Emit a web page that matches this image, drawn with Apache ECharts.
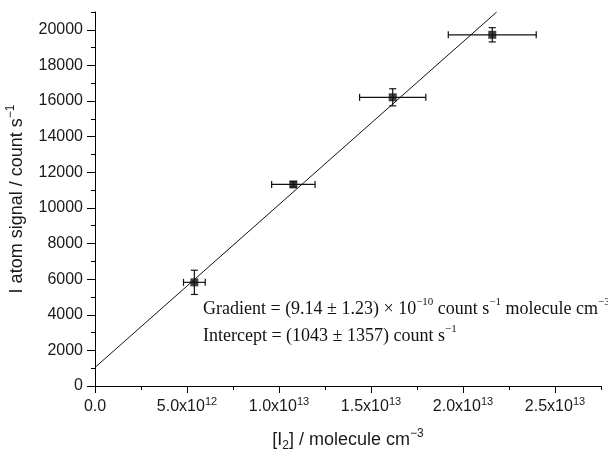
<!DOCTYPE html>
<html>
<head>
<meta charset="utf-8">
<script src="https://cdn.jsdelivr.net/npm/echarts@6/dist/echarts.min.js"></script>
<style>html,body{margin:0;padding:0;background:#fff}#c{width:608px;height:455px}</style>
</head>
<body>
<div id="c"></div>
<script>
// data
const pointX = [5.40e12, 1.078e13, 1.618e13, 2.159e13];
const pointY = [5820, 11320, 16210, 19720];
const xErr = [0.59e12, 1.18e12, 1.80e12, 2.39e12];
const yErr = [680, 150, 480, 400];
const fitX = [0, 2.183e13];
const fitY = [1043, 21000];
const xTicks = [0, 5e12, 1e13, 1.5e13, 2e13, 2.5e13];
const yTicks = [0, 2000, 4000, 6000, 8000, 10000, 12000, 14000, 16000, 18000, 20000];
const xMax = 2.75e13, yMax = 21000;

const SANS = 'Liberation Sans, Arial, sans-serif';
const SERIF = 'Liberation Serif, Times New Roman, serif';
const TXT = '#1a1a1a';

function fmtX(v) {
  if (v === 0) return '{a|0.0}';
  const e = Math.floor(Math.log10(v) + 1e-9);
  const m = (v / Math.pow(10, e)).toFixed(1);
  return '{a|' + m + 'x10}{s|' + e + '}';
}

const chart = echarts.init(document.getElementById('c'), null, {renderer: 'canvas'});
const pts = pointX.map((x, i) => [x, pointY[i], xErr[i], yErr[i]]);

chart.setOption({
  animation: false,
  backgroundColor: '#fff',
  grid: {left: 95, right: 7, top: 12, bottom: 69, containLabel: false, outerBoundsMode: 'none'},
  xAxis: [
    {
      type: 'value', min: 0, max: xMax, interval: 2.5e12, position: 'bottom',
      axisLine: {show: true, onZero: false, lineStyle: {color: '#000', width: 1}},
      axisTick: {show: true, length: 4, lineStyle: {color: '#000'}},
      axisLabel: {show: false}, splitLine: {show: false}
    },
    {
      type: 'value', min: 0, max: xMax, interval: 5e12, position: 'bottom', gridIndex: 0,
      axisLine: {show: false, onZero: false},
      axisTick: {show: true, length: 7, customValues: xTicks, lineStyle: {color: '#000'}},
      axisLabel: {
        show: true, customValues: xTicks, margin: 10, formatter: fmtX,
        rich: {
          a: {fontSize: 16, fontFamily: SANS, color: TXT, lineHeight: 22},
          s: {fontSize: 11, fontFamily: SANS, color: TXT, lineHeight: 11, verticalAlign: 'top'}
        }
      },
      splitLine: {show: false},
      name: '{a|[I}{b|2}{a|] / molecule cm}{s|\u22123}',
      nameLocation: 'middle', nameGap: 42,
      nameTextStyle: {
        rich: {
          a: {fontSize: 18, fontFamily: SANS, color: TXT, lineHeight: 24},
          b: {fontSize: 12, fontFamily: SANS, color: TXT, lineHeight: 12, verticalAlign: 'bottom'},
          s: {fontSize: 12, fontFamily: SANS, color: TXT, lineHeight: 12, verticalAlign: 'top'}
        }
      }
    }
  ],
  yAxis: [
    {
      type: 'value', min: 0, max: yMax, interval: 1000, position: 'left',
      axisLine: {show: true, onZero: false, lineStyle: {color: '#000', width: 1}},
      axisTick: {show: true, length: 4, lineStyle: {color: '#000'}},
      axisLabel: {show: false}, splitLine: {show: false}
    },
    {
      type: 'value', min: 0, max: yMax, interval: 2000, position: 'left', gridIndex: 0,
      axisLine: {show: false, onZero: false},
      axisTick: {show: true, length: 8, customValues: yTicks, lineStyle: {color: '#000'}},
      axisLabel: {
        show: true, customValues: yTicks, margin: 12,
        formatter: function (v) { return String(v); },
        fontSize: 16, fontFamily: SANS, color: TXT
      },
      splitLine: {show: false},
      name: '{a|I atom signal / count s}{s|\u22121}',
      nameLocation: 'middle', nameGap: 66, nameRotate: 90,
      nameTextStyle: {
        rich: {
          a: {fontSize: 18, fontFamily: SANS, color: TXT, lineHeight: 24},
          s: {fontSize: 12, fontFamily: SANS, color: TXT, lineHeight: 12, verticalAlign: 'top'}
        }
      }
    }
  ],
  series: [
    {
      type: 'line', xAxisIndex: 0, yAxisIndex: 0,
      data: fitX.map((x, i) => [x, fitY[i]]),
      symbol: 'none', clip: true,
      lineStyle: {color: '#111', width: 1}, z: 2
    },
    {
      type: 'custom', xAxisIndex: 0, yAxisIndex: 0, data: pts, z: 3,
      renderItem: function (params, api) {
        const x = api.value(0), y = api.value(1), ex = api.value(2), ey = api.value(3);
        const l = api.coord([x - ex, y]), r = api.coord([x + ex, y]);
        const t = api.coord([x, y + ey]), b = api.coord([x, y - ey]);
        const cap = 3.5;
        const style = {stroke: '#111', lineWidth: 1.2, fill: null};
        return {
          type: 'group', children: [
            {type: 'line', shape: {x1: l[0], y1: l[1], x2: r[0], y2: r[1]}, style: style},
            {type: 'line', shape: {x1: l[0], y1: l[1] - cap, x2: l[0], y2: l[1] + cap}, style: style},
            {type: 'line', shape: {x1: r[0], y1: r[1] - cap, x2: r[0], y2: r[1] + cap}, style: style},
            {type: 'line', shape: {x1: t[0], y1: t[1], x2: b[0], y2: b[1]}, style: style},
            {type: 'line', shape: {x1: t[0] - cap, y1: t[1], x2: t[0] + cap, y2: t[1]}, style: style},
            {type: 'line', shape: {x1: b[0] - cap, y1: b[1], x2: b[0] + cap, y2: b[1]}, style: style}
          ]
        };
      }
    },
    {
      type: 'scatter', xAxisIndex: 0, yAxisIndex: 0,
      data: pointX.map((x, i) => [x, pointY[i]]),
      symbol: 'rect', symbolSize: 8,
      itemStyle: {color: '#111'}, z: 4
    }
  ],
  graphic: [
    {
      type: 'text', left: 203, top: 297,
      style: {
        text: '{t|Gradient = (9.14 \u00b1 1.23) \u00d7 10}{s|\u221210}{t| count s}{s|\u22121}{t| molecule cm}{s|\u22123}',
        rich: {
          t: {fontSize: 18, fontFamily: SERIF, fill: '#111', lineHeight: 24},
          s: {fontSize: 11, fontFamily: SERIF, fill: '#111', lineHeight: 11, verticalAlign: 'top'}
        }
      }
    },
    {
      type: 'text', left: 203, top: 324,
      style: {
        text: '{t|Intercept = (1043 \u00b1 1357) count s}{s|\u22121}',
        rich: {
          t: {fontSize: 18, fontFamily: SERIF, fill: '#111', lineHeight: 24},
          s: {fontSize: 11, fontFamily: SERIF, fill: '#111', lineHeight: 11, verticalAlign: 'top'}
        }
      }
    }
  ]
});
</script>
</body>
</html>
